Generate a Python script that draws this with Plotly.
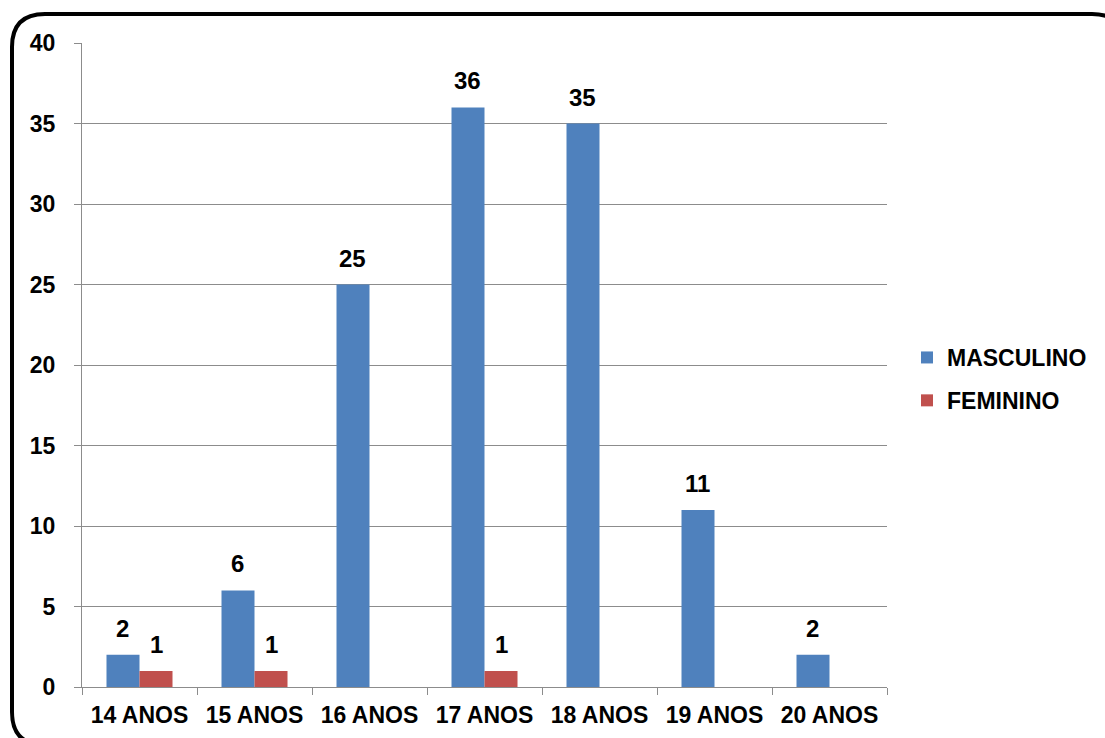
import plotly.graph_objects as go

categorias = ["14 ANOS", "15 ANOS", "16 ANOS", "17 ANOS", "18 ANOS", "19 ANOS", "20 ANOS"]
masculino = [2, 6, 25, 36, 35, 11, 2]
feminino = [1, 1, 0, 1, 0, 0, 0]

W, H = 1105, 738
L, R, T, B = 82, 887, 43, 687  # plot area in pixels

FONT = "Liberation Sans, Arial, sans-serif"
GRID = "#8c8c8c"
BARGAP = 0.426

fig = go.Figure()
fig.add_trace(go.Bar(
    x=categorias, y=masculino, name="MASCULINO", legendgroup="m",
    marker=dict(color="#4F81BD", line=dict(width=0)),
))
fig.add_trace(go.Bar(
    x=categorias, y=feminino, name="FEMININO", legendgroup="f",
    marker=dict(color="#C0504D", line=dict(width=0)),
))

# value labels above each non-zero bar (half a bar width left/right of the category centre)
meia_barra = (R - L) / len(categorias) * (1 - BARGAP) / 4
for serie, vals in ((-1, masculino), (1, feminino)):
    for cat, v in zip(categorias, vals):
        if v:
            fig.add_annotation(
                x=cat, y=v, text=str(v), showarrow=False,
                xshift=serie * meia_barra, yanchor="bottom", yshift=11,
                font=dict(family=FONT, size=24, color="black", weight="bold"),
            )


# rounded frame around the whole chart, given in pixels and mapped to paper units
def px(x):
    return (x - L) / (R - L)


def py(y):
    return (B - y) / (B - T)


x0, y0, x1, y1, rad = 12, 14, 1125, 745, 33
path = (
    f"M {px(x0)},{py(y0 + rad)} "
    f"Q {px(x0)},{py(y0)} {px(x0 + rad)},{py(y0)} "
    f"L {px(x1 - rad)},{py(y0)} "
    f"Q {px(x1)},{py(y0)} {px(x1)},{py(y0 + rad)} "
    f"L {px(x1)},{py(y1 - rad)} "
    f"Q {px(x1)},{py(y1)} {px(x1 - rad)},{py(y1)} "
    f"L {px(x0 + rad)},{py(y1)} "
    f"Q {px(x0)},{py(y1)} {px(x0)},{py(y1 - rad)} Z"
)
fig.add_shape(type="path", xref="paper", yref="paper", path=path,
              line=dict(color="black", width=4), layer="above")

fig.update_layout(
    width=W, height=H,
    margin=dict(l=L, r=W - R, t=T, b=H - B, pad=0, autoexpand=False),
    paper_bgcolor="white", plot_bgcolor="white",
    barmode="group", bargap=BARGAP, bargroupgap=0,
    font=dict(family=FONT, size=23, color="black"),
    showlegend=True,
    legend=dict(
        x=(907 - L) / (R - L), xanchor="left",
        y=py(336), yanchor="top",
        font=dict(family=FONT, size=23, color="black", weight="bold"),
        itemwidth=30, tracegroupgap=10, traceorder="grouped",
        bgcolor="rgba(0,0,0,0)",
    ),
    xaxis=dict(
        type="category", showline=True, linecolor=GRID, linewidth=1.3,
        ticks="outside", tickson="boundaries", ticklen=7, tickcolor=GRID,
        tickwidth=1.3, showgrid=False, ticklabelstandoff=7, automargin=False,
        tickfont=dict(family=FONT, size=23, color="black", weight="bold"),
    ),
    yaxis=dict(
        range=[0, 40], dtick=5, showline=True, linecolor=GRID, linewidth=1.3,
        ticks="outside", ticklen=7, tickcolor=GRID, tickwidth=1.3,
        showgrid=True, gridcolor=GRID, gridwidth=1.3, zeroline=False,
        ticklabelstandoff=14, automargin=False,
        tickfont=dict(family=FONT, size=23, color="black", weight="bold"),
    ),
)

fig.write_html("out.html")
